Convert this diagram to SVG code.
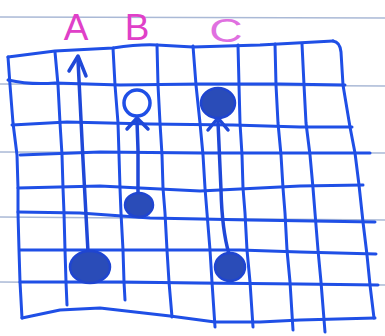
<svg xmlns="http://www.w3.org/2000/svg" width="385" height="336" viewBox="0 0 385 336">
<style>
.rule{fill:none;stroke:#aab9d6;stroke-width:1.5}
.grid{fill:none;stroke:#1f4fe6;stroke-width:3;stroke-linecap:round;stroke-linejoin:round}
.conn{fill:none;stroke:#1f48d8;stroke-width:3.5;stroke-linecap:round;stroke-linejoin:round}
.dot{fill:#2a4cb8;stroke:#1f45d0;stroke-width:2.5}
.ring{fill:#ffffff;stroke:#1f4fe6;stroke-width:3.5}
.lbl{font-family:"Liberation Sans",Arial,sans-serif;font-size:37px;fill:#e040c8;text-anchor:middle}
</style>
<rect width="385" height="336" fill="#ffffff"/>
<g id="ruled-paper">
<path class="rule" d="M0,17 L385,18"/>
<path class="rule" d="M0,84 L385,86"/>
<path class="rule" d="M0,152 L385,153"/>
<path class="rule" d="M0,217 L385,220"/>
<path class="rule" d="M0,282 L385,285"/>
</g>
<g id="grid">
<path class="grid" d="M8,57 L10,85 L13,123 L17,155 L18,188 L18,213 L19,250 L20,282 L22,318"/>
<path class="grid" d="M55,52 L58,85 L60,123 L62,155 L63,188 L64,213 L65,250 L66,282 L67,305"/>
<path class="grid" d="M113,48 L115,85 L118,123 L119,155 L120,188 L121,213 L123,250 L124,282 L125,300"/>
<path class="grid" d="M157,45 L158,85 L160,123 L162,155 L163,188 L165,213 L167,250 L169,282 L172,317"/>
<path class="grid" d="M193,46 L196,85 L200,123 L203,155 L205,188 L207,213 L210,250 L212,282 L215,327"/>
<path class="grid" d="M238,45 L239,85 L240,123 L242,155 L243,188 L245,213 L247,250 L250,282 L253,327"/>
<path class="grid" d="M275,44 L276,85 L278,123 L281,155 L283,188 L285,213 L287,250 L290,282 L293,330"/>
<path class="grid" d="M302,44 L304,85 L306,123 L310,155 L313,188 L315,213 L318,250 L321,282 L325,332"/>
<path class="grid" d="M333,41 Q340,42 341,52 L343,85 L350,127 L355,153 L359,185 L363,222 L367,255 L370,285 L374,318"/>
<path class="grid" d="M8,57 L55,51 L113,48 Q140,44 157,45 L193,47 L260,45 L333,41"/>
<path class="grid" d="M8,80 Q30,85 55,83 L120,85 L200,84 L280,84 L345,85"/>
<path class="grid" d="M12,125 L67,122 L150,124 L233,125 L300,127 L352,127"/>
<path class="grid" d="M20,155 L100,152 L200,153 L300,153 L370,153"/>
<path class="grid" d="M18,188 L100,186 L200,191 L300,186 L363,185"/>
<path class="grid" d="M18,212 L80,213 L150,218 L250,220 L375,222"/>
<path class="grid" d="M20,250 L150,250 L240,250 L300,252 L376,254"/>
<path class="grid" d="M20,282 L120,282 L200,283 L300,284 L378,285"/>
<path class="grid" d="M22,318 L60,310 L100,308 L170,316 L215,322 L260,322 L300,320 L375,318"/>
</g>
<g id="connectors">
<path class="conn" d="M88,252 L83,160 L78,60"/>
<path class="conn" d="M69,71 L78,56 L86,76"/>
<path class="conn" d="M138,194 L138,150 L137,121"/>
<path class="conn" d="M127,129 L137,118 L148,129"/>
<path class="conn" d="M229,254 Q222,230 221,190 L218,122"/>
<path class="conn" d="M208,130 L218,118 L228,130"/>
</g>
<g id="node-A">
<ellipse class="dot" cx="90" cy="267" rx="20" ry="16"/>
<text class="lbl" x="76" y="40">A</text>
</g>
<g id="node-B-top">
<circle class="ring" cx="137" cy="103" r="13"/>
</g>
<g id="node-B">
<ellipse class="dot" cx="139" cy="205" rx="14" ry="12"/>
<text class="lbl" x="137" y="40">B</text>
</g>
<g id="node-C-top">
<ellipse class="dot" cx="218" cy="103" rx="17" ry="15"/>
</g>
<g id="node-C">
<ellipse class="dot" cx="230" cy="267" rx="15" ry="14"/>
<text class="lbl" transform="translate(226,42) scale(1.25,0.9)" x="0" y="0" style="fill:#e070e0">C</text>
</g>
</svg>
